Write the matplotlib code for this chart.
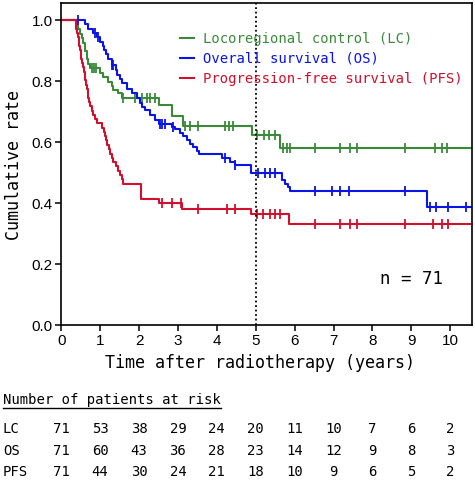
import numpy as np
import matplotlib
matplotlib.use('Agg')
import matplotlib.pyplot as plt
from matplotlib import transforms
from matplotlib.lines import Line2D

# Kaplan-Meier curves: event times (years) and survival after each event
lc_times = [0.40, 0.44, 0.48, 0.53, 0.57, 0.61, 0.66, 0.70, 0.74, 1.00, 1.08, 1.21, 1.30,
            1.34, 1.45, 1.56, 2.52, 2.84, 3.13, 4.90, 5.63]
lc_surv = [0.985, 0.970, 0.956, 0.940, 0.924, 0.900, 0.874, 0.855, 0.842, 0.828, 0.814, 0.798,
           0.784, 0.770, 0.760, 0.745, 0.721, 0.686, 0.654, 0.623, 0.580]
lc_cens = [0.80, 0.85, 0.90, 1.60, 1.90, 2.07, 2.20, 2.28, 2.40, 3.18, 3.31, 3.52, 4.21, 4.30,
           4.42, 5.03, 5.20, 5.33, 5.50, 5.71, 5.80, 5.88, 6.52, 7.17, 7.42, 7.60, 8.84, 9.60,
           9.78, 9.91]

os_times = [0.61, 0.70, 0.82, 0.91, 1.00, 1.08, 1.10, 1.15, 1.21, 1.30, 1.40, 1.43, 1.51, 1.56,
            1.68, 1.81, 1.94, 2.03, 2.07, 2.15, 2.28, 2.41, 2.52, 2.84, 2.93, 3.05, 3.14, 3.23,
            3.31, 3.40, 3.48, 3.53, 4.13, 4.34, 4.47, 4.87, 5.67, 5.75, 5.84, 5.88, 9.40]
os_surv = [0.986, 0.972, 0.958, 0.944, 0.930, 0.916, 0.902, 0.888, 0.872, 0.852, 0.838, 0.820,
           0.806, 0.795, 0.776, 0.760, 0.745, 0.730, 0.716, 0.705, 0.690, 0.672, 0.660, 0.650,
           0.642, 0.632, 0.622, 0.607, 0.596, 0.585, 0.570, 0.560, 0.547, 0.535, 0.525, 0.500,
           0.475, 0.464, 0.452, 0.440, 0.387]
os_cens = [0.44, 0.88, 0.94, 1.31, 1.34, 2.55, 2.60, 2.67, 2.88, 4.21, 4.47, 5.06, 5.24, 5.37,
           5.50, 6.52, 6.96, 7.17, 7.40, 8.84, 9.48, 9.64, 9.94, 10.41]

pfs_times = [0.37, 0.39, 0.41, 0.43, 0.45, 0.47, 0.48, 0.50, 0.52, 0.54, 0.56, 0.58, 0.60, 0.62,
             0.64, 0.66, 0.68, 0.70, 0.72, 0.74, 0.78, 0.82, 0.87, 0.91, 1.05, 1.09, 1.13, 1.15,
             1.18, 1.22, 1.26, 1.30, 1.34, 1.40, 1.45, 1.52, 1.56, 1.60, 2.05, 2.52, 3.10, 4.88,
             5.86]
pfs_surv = [0.986, 0.972, 0.958, 0.944, 0.930, 0.915, 0.901, 0.887, 0.873, 0.859, 0.845, 0.831,
            0.817, 0.803, 0.789, 0.775, 0.761, 0.746, 0.732, 0.718, 0.704, 0.690, 0.676, 0.662,
            0.648, 0.634, 0.620, 0.606, 0.592, 0.578, 0.563, 0.549, 0.535, 0.521, 0.507, 0.493,
            0.479, 0.465, 0.414, 0.400, 0.382, 0.366, 0.331]
pfs_cens = [2.58, 2.84, 3.07, 3.52, 4.25, 4.47, 5.03, 5.19, 5.37, 5.50, 5.62, 6.52, 7.17, 7.42,
            7.60, 8.84, 9.56, 9.78, 9.94]

# numbers at risk
risk_years = list(range(11))
risk_lc = [71, 53, 38, 29, 24, 20, 11, 10, 7, 6, 2]
risk_os = [71, 60, 43, 36, 28, 23, 14, 12, 9, 8, 3]
risk_pfs = [71, 44, 30, 24, 21, 18, 10, 9, 6, 5, 2]

labels = ['Locoregional control (LC)', 'Overall survival (OS)', 'Progression-free survival (PFS)']
colors = ['#3a8a3a', '#0a14e6', '#d0102c']
xmax = 10.55

mono = 'DejaVu Sans Mono'
plt.rcParams['font.family'] = 'Liberation Sans'

fig = plt.figure(figsize=(4.75, 4.82), dpi=100)
ax = fig.add_axes([0.1288, 0.3247, 0.8643, 0.669])

curves = [(lc_times, lc_surv, lc_cens), (os_times, os_surv, os_cens),
          (pfs_times, pfs_surv, pfs_cens)]
for (tt, ss, cc), col, lab in zip(curves, colors, labels):
    x = [0] + tt + [xmax]
    y = [1.0] + ss + [ss[-1]]
    ax.step(x, y, where='post', color=col, lw=1.5, label=lab)
    s_full = np.array([1.0] + ss)
    idx = np.searchsorted(np.array(tt), np.array(cc), side='right')
    ax.plot(cc, s_full[idx], ls='none', marker='|', ms=7, mew=1.3, color=col)

ax.axvline(5, color='black', ls=(0, (1, 1.5)), lw=1.3)

ax.set_xlim(0, xmax)
ax.set_ylim(0, 1.056)
ax.set_xticks(range(11))
ax.set_yticks([0, 0.2, 0.4, 0.6, 0.8, 1.0])
ax.set_yticklabels(['0.0', '0.2', '0.4', '0.6', '0.8', '1.0'])
ax.tick_params(direction='out', length=4, width=1.1, labelsize=11, pad=2)
for sp in ax.spines.values():
    sp.set_linewidth(1.2)

leg = ax.legend(loc='upper left', bbox_to_anchor=(0.26, 0.95), frameon=False,
                handlelength=1.0, handletextpad=0.6, labelspacing=0.45,
                prop={'family': mono, 'size': 10})
for txt, col in zip(leg.get_texts(), colors):
    txt.set_color(col)

ax.text(0.93, 0.145, 'n = 71', transform=ax.transAxes, ha='right', va='center',
        family=mono, fontsize=12.5)

fig.text(0.548, 1 - 363 / 482, 'Time after radiotherapy (years)', ha='center', va='center',
         family=mono, fontsize=12)
fig.text(14 / 475, 1 - 165 / 482, 'Cumulative rate', rotation=90, ha='center', va='center',
         family=mono, fontsize=12)

# number-at-risk table
title = fig.text(3 / 475, 1 - 400 / 482, 'Number of patients at risk', ha='left',
                 va='center', family=mono, fontsize=10)
fig.canvas.draw()
bb = title.get_window_extent().transformed(fig.transFigure.inverted())
fig.add_artist(Line2D([bb.x0, bb.x1], [bb.y0 - 0.002, bb.y0 - 0.002],
                      transform=fig.transFigure, color='black', lw=1.0))

trans = transforms.blended_transform_factory(ax.transData, fig.transFigure)
rows = [('LC', risk_lc, 429), ('OS', risk_os, 451), ('PFS', risk_pfs, 472)]
for name, vals, ypx in rows:
    yf = 1 - ypx / 482
    fig.text(3 / 475, yf, name, ha='left', va='center', family=mono, fontsize=10)
    for yr, v in zip(risk_years, vals):
        ax.text(yr, yf, str(v), transform=trans, ha='center', va='center',
                family=mono, fontsize=10, clip_on=False)

fig.savefig('out.png', dpi=100)
